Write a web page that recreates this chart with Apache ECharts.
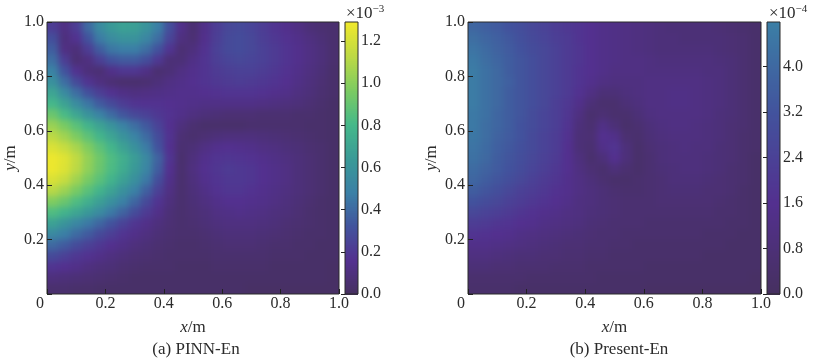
<!DOCTYPE html>
<html><head><meta charset="utf-8">
<style>html,body{margin:0;padding:0;background:#fff}#c{width:815px;height:359px}</style>
<script src="https://cdn.jsdelivr.net/npm/echarts@6/dist/echarts.min.js"></script>
</head><body><div id="c"></div>
<script>
// Values in units of 1e-5. Rows run from y=0.98 (top) to y=0.02 (bottom); columns from x=0.02 to x=0.98.
const xCentres=[.02,.06,.10,.14,.18,.22,.26,.30,.34,.38,.42,.46,.50,.54,.58,.62,.66,.70,.74,.78,.82,.86,.90,.94,.98];
const yCentres=[.98,.94,.90,.86,.82,.78,.74,.70,.66,.62,.58,.54,.50,.46,.42,.38,.34,.30,.26,.22,.18,.14,.10,.06,.02];
const pinnEn=[
[22,12,22,40,55,64,68,67,60,48,30,14,6,14,22,27,28,26,22,18,15,12,8,6,5],
[30,10,17,32,47,56,60,60,53,42,26,11,7,15,23,28,29,27,23,20,17,14,11,8,5],
[36,12,9,22,36,45,48,48,42,32,18,7,10,17,24,28,29,27,24,21,18,15,12,9,5],
[42,22,7,11,23,32,35,35,30,20,8,8,13,18,23,26,27,26,24,21,18,15,12,9,5],
[50,32,17,9,7,14,19,19,13,6,8,12,15,18,21,23,24,24,22,20,17,14,11,8,4],
[58,42,28,18,11,7,5,5,6,9,12,14,16,18,20,21,22,21,20,18,16,13,10,7,4],
[70,55,42,31,23,17,13,11,12,13,14,15,15,16,17,18,18,18,17,15,14,11,9,6,4],
[80,69,56,45,35,28,22,18,17,17,16,15,14,13,13,13,13,13,12,11,10,9,7,5,3],
[92,82,71,60,50,41,33,27,24,20,17,14,11,9,8,7,7,7,6,6,6,5,5,4,3],
[104,96,87,78,69,60,50,42,34,25,16,10,6,4,4,4,4,5,5,5,5,5,4,4,3],
[113,106,97,88,79,70,60,51,41,29,17,7,5,7,9,10,10,10,9,8,7,6,5,4,3],
[122,116,108,98,88,79,69,59,47,32,16,6,8,12,15,16,15,14,12,11,9,8,6,5,3],
[128,124,114,103,93,84,76,66,54,38,18,5,10,15,18,19,18,17,15,13,11,9,7,5,3],
[128,123,113,102,92,83,74,64,52,36,16,5,11,16,19,21,20,19,16,14,12,9,7,5,3],
[122,116,106,96,87,78,68,58,46,30,14,5,10,15,18,20,20,19,16,14,12,9,7,5,3],
[112,105,96,87,78,69,59,49,37,24,12,5,9,13,17,19,19,17,15,13,11,9,7,5,3],
[98,92,84,76,67,58,49,39,28,18,10,5,8,11,14,16,16,15,14,12,10,8,6,4,3],
[84,78,71,63,55,46,38,29,21,14,8,5,7,9,12,13,14,13,12,10,9,7,5,4,3],
[68,61,53,46,39,32,25,19,14,10,7,5,6,8,10,11,11,11,10,9,7,6,5,4,3],
[54,48,41,35,28,23,18,14,11,8,6,5,5,6,8,9,9,9,8,7,6,5,4,4,3],
[40,35,29,24,20,16,13,10,8,6,5,4,4,5,6,7,7,7,6,5,5,4,4,3,3],
[28,24,20,17,14,11,9,7,6,5,4,4,4,4,5,5,5,5,5,4,4,4,3,3,3],
[18,16,14,11,9,8,6,5,4,4,4,3,3,3,4,4,4,4,4,3,3,3,3,3,2],
[10,9,8,7,6,5,4,3,3,3,3,3,3,3,3,3,3,3,3,3,3,3,3,3,2],
[5,5,4,4,3,3,3,3,3,3,3,3,3,3,3,3,3,2,2,2,2,2,2,2,2]];
const presentEn=[
[39,37,35,32,30,27,25,22,20,18,16,14,13,12,11,10,9,8,8,8,8,7,6,5,4],
[42,39,37,34,31,28,26,23,21,18,16,14,13,12,11,10,9,9,8,8,8,8,7,6,4],
[44,41,38,35,32,29,27,24,21,19,16,14,13,12,11,10,9,9,9,9,9,8,7,6,4],
[46,42,39,36,33,30,27,24,21,19,16,14,13,12,12,11,10,10,10,10,10,9,8,6,4],
[47,43,40,36,33,30,27,24,21,18,16,14,12,12,12,11,11,11,11,11,10,10,8,6,4],
[47,43,40,37,33,30,27,24,21,18,15,12,11,11,11,12,12,12,12,12,11,10,8,6,4],
[47,43,40,36,33,30,27,24,21,17,12,8,8,10,11,12,12,13,13,12,11,10,8,6,4],
[47,43,40,36,33,30,27,23,20,14,8,5,5,8,10,12,12,13,13,12,11,10,8,6,4],
[46,43,39,36,33,29,26,23,19,11,5,7,5,5,8,11,12,12,12,12,11,9,8,6,4],
[46,42,39,36,32,29,26,23,18,9,6,13,8,4,6,9,11,12,12,11,10,9,7,6,4],
[45,42,38,35,32,28,25,22,17,8,7,16,14,6,5,8,10,11,11,11,10,9,7,5,4],
[44,41,37,34,31,28,25,22,16,8,6,14,18,9,4,7,9,10,11,10,10,8,7,5,4],
[43,40,36,33,30,27,24,21,16,10,5,9,16,9,4,6,9,10,10,10,9,8,7,5,3],
[41,38,35,32,29,26,23,20,16,11,7,5,9,6,4,6,8,9,10,10,9,8,6,5,3],
[39,36,33,30,27,24,21,19,15,12,9,6,4,4,5,6,7,9,9,9,8,7,6,5,3],
[36,33,30,27,24,22,20,17,15,12,10,8,6,5,5,6,7,8,8,8,7,7,6,4,3],
[32,29,27,24,22,20,18,16,14,11,10,8,7,6,6,6,7,7,7,7,7,6,5,4,3],
[27,25,23,21,19,17,15,14,12,11,9,8,7,6,6,6,6,6,6,6,6,5,5,4,3],
[22,21,19,18,16,15,13,12,11,10,8,7,6,6,6,5,5,5,5,5,5,5,4,4,3],
[18,17,16,15,13,12,11,10,9,8,7,6,6,5,5,5,5,5,5,5,4,4,4,3,3],
[14,14,13,12,11,10,9,8,7,7,6,6,5,5,4,4,4,4,4,4,4,4,3,3,3],
[11,11,10,9,8,8,7,7,6,6,5,5,4,4,4,4,4,4,4,4,3,3,3,3,3],
[8,8,7,7,6,6,6,5,5,5,4,4,4,4,4,3,3,3,3,3,3,3,3,3,3],
[5,5,5,5,5,4,4,4,4,4,4,3,3,3,3,3,3,3,3,3,3,3,3,3,2],
[4,4,4,4,3,3,3,3,3,3,3,3,3,3,3,2,2,2,2,2,2,2,2,2,2]];
const cbarMaxA=129, cbarMaxB=47.8;
const captions=['(a) PINN-En','(b) Present-En'];
const FONT='"Liberation Serif"', TXT='#2b2b2b';
const colours=['#46305f','#53308f','#42539d','#3b80a6','#3a9a97','#45b88a','#7bcb62','#bcd945','#efe82c'];

const cell=(m)=>{const o=[];m.forEach((r,j)=>r.forEach((v,i)=>o.push([xCentres[i],yCentres[j],v])));return o;};
const LEVELS=136;
const bar=(max)=>{const o=[];for(let k=0;k<LEVELS;k++)o.push([.5,(k+.5)*max/LEVELS,(k+.5)*max/LEVELS]);return o;};
const renderCell=(params,api)=>{
  const x=api.value(0),y=api.value(1),h=.02;
  const a=api.coord([x-h,y+h]),b=api.coord([x+h,y-h]);
  const cs=params.coordSys,pad=14;
  const l=a[0]<=cs.x+1?a[0]-pad:a[0],r=b[0]>=cs.x+cs.width-1?b[0]+pad:b[0]+1;
  const t=a[1]<=cs.y+1?a[1]-pad:a[1],d=b[1]>=cs.y+cs.height-1?b[1]+pad:b[1]+1;
  return {type:'rect',shape:{x:l,y:t,width:r-l,height:d-t},style:{fill:api.visual('color')}};
};
const renderBar=(max)=>(params,api)=>{
  const s=max/LEVELS/2,y=api.value(1);
  const a=api.coord([0,y+s]),b=api.coord([1,y-s]);
  return {type:'rect',shape:{x:a[0],y:a[1],width:b[0]-a[0],height:b[1]-a[1]+1},style:{fill:api.visual('color')}};
};
const grid=(left,width)=>({left,top:22,width,height:272,show:true,borderColor:'#2a2a2a',borderWidth:1,backgroundColor:'transparent',zlevel:1,z:5,containLabel:false});
const tick={show:true,inside:true,length:5,lineStyle:{color:'#222',width:1}};
const label={fontFamily:FONT,fontSize:16,color:TXT};
const nameStyle={...label,fontSize:17,rich:{i:{...label,fontSize:17,fontStyle:'italic'}}};
const unit=(gridIndex)=>({type:'value',gridIndex,min:0,max:1,interval:.2,zlevel:1,z:5,splitLine:{show:false},axisLine:{show:false},axisTick:tick,
  axisLabel:{...label,margin:2,formatter:v=>v===0?'{z|0}':v.toFixed(1),rich:{z:{...label,padding:[0,14,0,0]}}},
  name:'{i|x}/m',nameLocation:'middle',nameGap:25,nameTextStyle:nameStyle});
const unitY=(gridIndex)=>({type:'value',gridIndex,min:0,max:1,interval:.2,zlevel:1,z:5,splitLine:{show:false},axisLine:{show:false},axisTick:tick,
  axisLabel:{...label,margin:3,formatter:v=>v===0?'':v.toFixed(1)},
  name:'{i|y}/m',nameLocation:'middle',nameGap:28,nameTextStyle:nameStyle});
const cbarX=(gridIndex)=>({type:'value',gridIndex,min:0,max:1,show:false,zlevel:1});
const cbarY=(gridIndex,max,interval,div)=>({type:'value',gridIndex,min:0,max,interval,position:'right',zlevel:1,z:5,splitLine:{show:false},axisLine:{show:false},
  axisTick:{show:true,inside:true,length:4,lineStyle:{color:'#222',width:1}},axisLabel:{...label,margin:3,showMaxLabel:false,formatter:v=>(v/div).toFixed(1)}});
const heat=(i,m)=>({type:'custom',xAxisIndex:i,yAxisIndex:i,data:cell(m),renderItem:renderCell,zlevel:0,animation:false,silent:true,encode:{x:0,y:1}});
const cb=(i,max)=>({type:'custom',xAxisIndex:i,yAxisIndex:i,data:bar(max),renderItem:renderBar(max),zlevel:1,z:1,animation:false,silent:true,encode:{x:0,y:1}});
const sup={...label,fontSize:11,padding:[0,0,8,0]};
const capStyle={...label,fontSize:17,fontWeight:'normal'};
const chart=echarts.init(document.getElementById('c'),null,{renderer:'canvas'});
chart.setOption({
  animation:false,
  grid:[grid(47,292),grid(345,13),grid(468,293),grid(767,13)],
  xAxis:[unit(0),cbarX(1),unit(2),cbarX(3)],
  yAxis:[unitY(0),cbarY(1,cbarMaxA,20,100),unitY(2),cbarY(3,cbarMaxB,8,10)],
  visualMap:{type:'continuous',show:false,min:0,max:129,dimension:2,seriesIndex:[0,1,2,3],inRange:{color:colours}},
  series:[heat(0,pinnEn),cb(1,cbarMaxA),heat(2,presentEn),cb(3,cbarMaxB)],
  title:[
    {text:captions[0],left:191,top:336,textAlign:'center',zlevel:1,textStyle:capStyle},
    {text:captions[1],left:614,top:336,textAlign:'center',zlevel:1,textStyle:capStyle},
    {text:'×10{s|−3}',left:341,top:-1,zlevel:1,textStyle:{...capStyle,rich:{s:sup}}},
    {text:'×10{s|−4}',left:764,top:-1,zlevel:1,textStyle:{...capStyle,rich:{s:sup}}}
  ]
});
const base=document.querySelector('#c canvas');
base.style.filter='blur(3px)';
base.style.clipPath="path('M47 22H339V294H47Z M468 22H761V294H468Z')";
</script></body></html>
